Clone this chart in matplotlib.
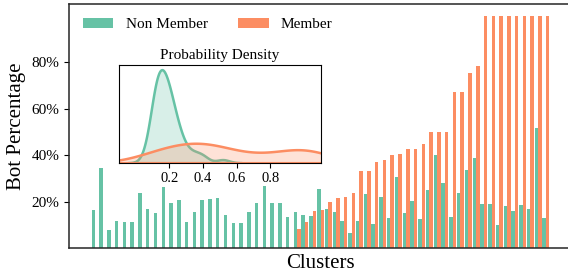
import numpy as np
import matplotlib
matplotlib.use("Agg")
import matplotlib.pyplot as plt
import seaborn as sns

# bot percentage per cluster
non_member = [16.4, 34.6, 7.8, 11.7, 11.2, 11.2, 23.8, 16.8, 15.1, 26.3,
              19.4, 20.7, 11.2, 15.6, 20.7, 21.2, 21.6, 14.3, 10.8, 10.8,
              15.6, 19.4, 26.8, 19.4, 19.4, 13.4, 15.6, 14.3, 13.8, 25.5,
              16.8, 15.6, 11.7, 6.5, 11.7, 23.3, 10.4, 22.0, 13.0, 30.7,
              15.1, 20.3, 12.5, 25.1, 40.2, 28.1, 13.4, 23.8, 33.7, 38.9,
              19.0, 19.0, 9.9, 18.1, 16.0, 18.6, 16.8, 51.8, 13.0]
# member bots only appear from cluster 27 on
member = [0] * 26 + [8.2, 11.2, 16.0, 16.4, 19.9, 21.6, 22.0, 23.8, 33.3, 33.3,
                     37.1, 38.0, 40.2, 40.6, 42.8, 42.8, 44.9, 50.1, 50.1, 50.1,
                     67.0, 67.0, 75.2, 78.2, 100, 100, 100, 100, 100, 100,
                     100, 100, 100]
labels = ["Non Member", "Member"]
colors = ["#66c2a5", "#fc8d62"]

plt.rcParams["font.family"] = ["Liberation Serif", "DejaVu Serif"]

fig = plt.figure(figsize=(5.68, 2.76), dpi=100)
ax = fig.add_axes([0.1215, 0.1014, 0.8856, 0.8841])

x = np.arange(len(non_member))
w = 0.45
ax.bar(x - w / 2, non_member, width=w, color=colors[0], label=labels[0])
ax.bar(x + w / 2, member, width=w, color=colors[1], label=labels[1])

ax.set_xlim(-3.35, 61.35)
ax.set_ylim(0, 105)
ax.set_xticks([])
ax.set_yticks([20, 40, 60, 80])
ax.set_yticklabels(["20%", "40%", "60%", "80%"], fontsize=11)
ax.set_ylabel("Bot Percentage", fontsize=15)
ax.set_xlabel("Clusters", fontsize=15)
for s in ax.spines.values():
    s.set_linewidth(1.1)
    s.set_color("#262626")
ax.legend(loc="upper left", ncol=2, frameon=False, fontsize=11)

# inset: density of bot share per group
ins = fig.add_axes([0.2095, 0.4105, 0.3551, 0.354])
nm = np.array(non_member) / 100
mb = np.array([v for v in member if v > 0]) / 100
sns.kdeplot(nm, ax=ins, fill=True, color=colors[0], alpha=0.25, linewidth=1.8)
sns.kdeplot(mb, ax=ins, fill=True, color=colors[1], alpha=0.25, linewidth=1.8)
ins.set_xlim(-0.1, 1.1)
ins.set_xticks([0.2, 0.4, 0.6, 0.8])
ins.set_xticklabels(["0.2", "0.4", "0.6", "0.8"], fontsize=10.5)
ins.set_yticks([])
ins.set_ylabel("")
ins.set_title("Probability Density", fontsize=11, pad=4)

fig.savefig("out.png", dpi=100)
